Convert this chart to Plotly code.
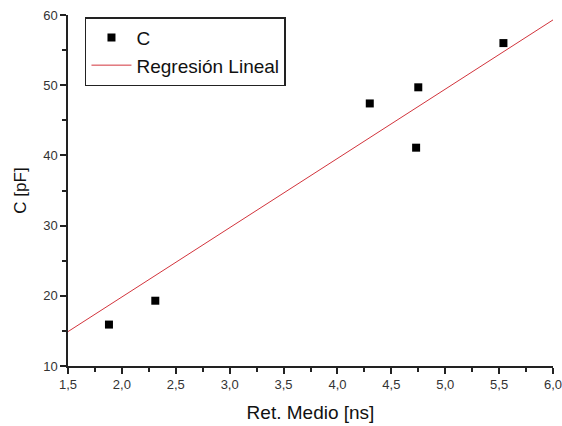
import plotly.graph_objects as go

ret_medio = [1.88, 2.31, 4.30, 4.73, 4.75, 5.54]
capacitance = [15.9, 19.3, 47.4, 41.1, 49.7, 56.0]
reg_x = [1.5, 6.0]
reg_y = [14.9, 59.3]
x_ticks = [1.5, 2.0, 2.5, 3.0, 3.5, 4.0, 4.5, 5.0, 5.5, 6.0]
y_ticks = [10, 20, 30, 40, 50, 60]

FONT = "Liberation Sans, Arial, sans-serif"

fig = go.Figure()
fig.add_trace(go.Scatter(
    x=ret_medio, y=capacitance, mode="markers", name="C",
    marker=dict(symbol="square", size=8, color="black"),
))
fig.add_trace(go.Scatter(
    x=reg_x, y=reg_y, mode="lines", name="Regresión Lineal",
    line=dict(color="#d2343c", width=1),
))

axis_common = dict(
    showgrid=False, zeroline=False, showline=True, linecolor="#222222", linewidth=1.5,
    ticks="outside", ticklen=6, tickwidth=1.5, tickcolor="#222222",
    tickfont=dict(family=FONT, size=13, color="#333333"),
    mirror=False, automargin=False, ticklabeloverflow="allow",
)

fig.update_layout(
    width=562, height=426,
    margin=dict(l=68, r=9, t=15, b=60),
    paper_bgcolor="white", plot_bgcolor="white",
    separators=",.",
    xaxis=dict(
        range=[1.5, 6.0], tickvals=x_ticks, tickformat=".1f",
        minor=dict(dtick=0.25, tick0=1.5, ticks="outside", ticklen=4, tickwidth=1.5, tickcolor="#222222"),
        title=dict(text="Ret. Medio [ns]", font=dict(family=FONT, size=19, color="#111111"), standoff=14),
        **axis_common,
    ),
    yaxis=dict(
        range=[10, 60], tickvals=y_ticks,
        minor=dict(dtick=5, tick0=10, ticks="outside", ticklen=4, tickwidth=1.5, tickcolor="#222222"),
        title=dict(text="C [pF]", font=dict(family=FONT, size=17, color="#111111"), standoff=12),
        **axis_common,
    ),
    legend=dict(
        x=0.035, y=0.994, xanchor="left", yanchor="top",
        bordercolor="#222222", borderwidth=1.5, bgcolor="white",
        font=dict(family=FONT, size=19, color="#111111"),
        tracegroupgap=0, itemwidth=40, entrywidth=210, entrywidthmode="pixels",
    ),
    showlegend=True,
)

fig.write_html(
    "out.html",
    config={"displayModeBar": False},
    post_script="document.body.style.margin='0';document.body.style.overflow='hidden';",
)
